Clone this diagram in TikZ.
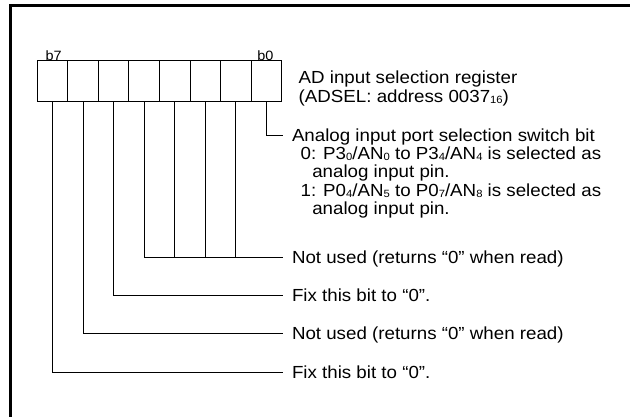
\documentclass[tikz,border=0pt]{standalone}
\usepackage{fontspec}
\setmainfont[FakeStretch=1.07]{Liberation Sans}
\usepackage{tikz}
\newcommand{\cellwidth}{30.55pt}
\newcommand{\cellheight}{41.3pt}
\newcommand{\notefont}{\fontsize{17.5}{18.3}\selectfont}
\newcommand{\sbs}[1]{\raisebox{-1.2pt}{\fontsize{10.5}{10.5}\selectfont #1}}
\tikzstyle{bitcell}=[draw, line width=1pt, inner sep=0, outer sep=0, minimum width=\cellwidth, minimum height=\cellheight]
\tikzstyle{bitname}=[inner sep=0, anchor=base west, font=\fontsize{13.5}{13.5}\selectfont]
\tikzstyle{note}=[inner sep=0, outer xsep=9pt, outer ysep=0, anchor=west,
                  % line meets the middle of the capitals
                  text height=12.5pt, text depth=0pt, font=\notefont]
\tikzstyle{notelist}=[inner sep=0, outer sep=0, align=left, anchor=north west, font=\notefont]
\tikzstyle{wire}=[line width=0.9pt]

\begin{document}
\begin{tikzpicture}[x=1pt, y=-1pt]
    \useasboundingbox (0,0) rectangle (630,417);
    \draw[line width=3pt] (10.5,417) -- (10.5,5.5) -- (630,5.5);
    % register, b7 on the left
    \foreach \i in {0,...,7}
        \node[bitcell] (c\i) at ({52.6+30.55*(7-\i)}, 81.35) {};
    \node[bitname] (b7) at ([xshift=8pt, yshift=0.5pt]c7.north west) {b7};
    \node[bitname] (b0) at ([xshift=6pt, yshift=0.5pt]c0.north west) {b0};
    \node[notelist] (regname) at ([xshift=17pt, yshift=-10.5pt]c0.north east)
        {AD input selection register\\(ADSEL: address 0037\sbs{16})};
    \node[note] (analog) at (283, 135) {Analog input port selection switch bit};
    \node[notelist] (analogopts) at ([xshift=17.7pt, yshift=-5.5pt]analog.south west)
        {0: P3\sbs{0}/AN\sbs{0} to P3\sbs{4}/AN\sbs{4} is selected as\\
         \hspace*{11.6pt}analog input pin.\\
         1: P0\sbs{4}/AN\sbs{5} to P0\sbs{7}/AN\sbs{8} is selected as\\
         \hspace*{11.6pt}analog input pin.};
    \node[note] (unused1) at (283, 257) {Not used (returns “0” when read)};
    \node[note] (fix5) at (283, 295.3) {Fix this bit to “0”.};
    \node[note] (unused6) at (283, 333.6) {Not used (returns “0” when read)};
    \node[note] (fix7) at (283, 372) {Fix this bit to “0”.};
    \draw[wire] (c0.south) |- (analog.west);
    \draw[wire] (c4.south) |- (unused1.west);
    \foreach \i in {1,2,3}
        \draw[wire] (c\i.south) -- (c\i.south |- unused1.west);
    \draw[wire] (c5.south) |- (fix5.west);
    \draw[wire] (c6.south) |- (unused6.west);
    \draw[wire] (c7.south) |- (fix7.west);
\end{tikzpicture}
\end{document}
